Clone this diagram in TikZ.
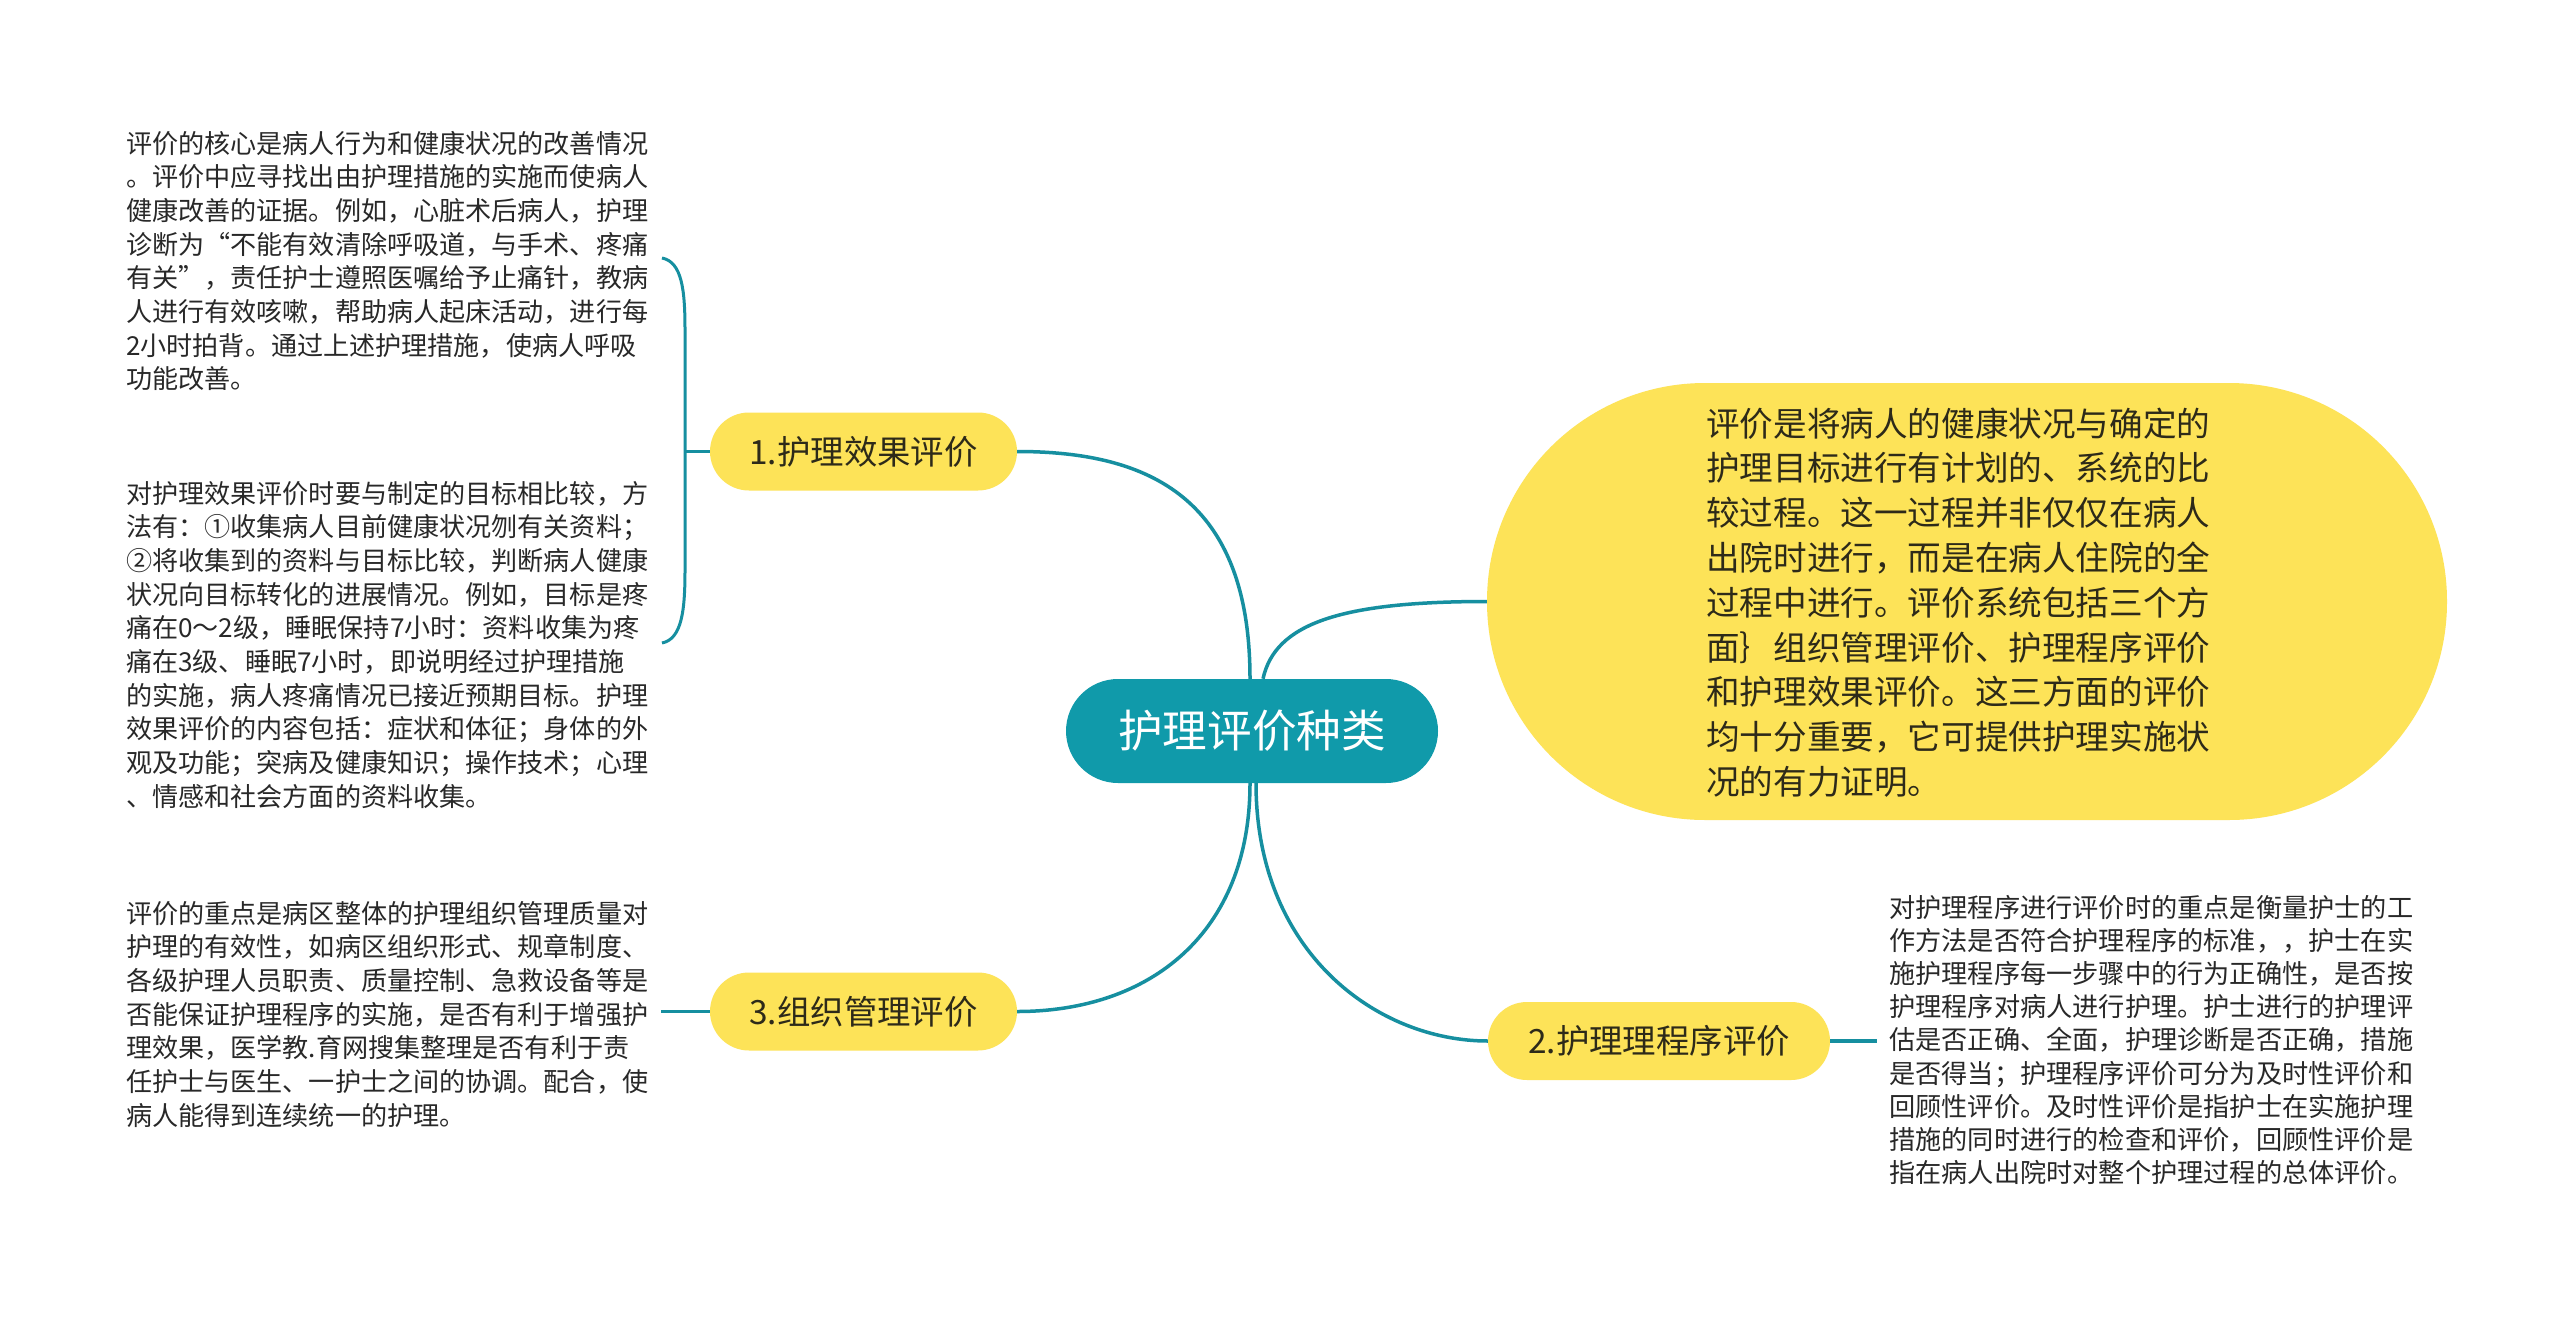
\documentclass[tikz,border=0pt]{standalone}
\usepackage{fontspec}
\newfontfamily\cjk{Noto Sans CJK SC}
\usetikzlibrary{calc}
\definecolor{rootteal}{RGB}{16,154,170}
\definecolor{lineteal}{RGB}{22,143,160}
\definecolor{yel}{RGB}{253,227,88}
\definecolor{ink}{RGB}{40,40,40}
\definecolor{inky}{RGB}{45,42,25}
\begin{document}
\begin{tikzpicture}[x=1pt,y=-1pt,
  rootbox/.style={fill=rootteal, rounded corners=52pt, minimum width=372pt, minimum height=104pt, inner sep=0pt, text=white, font=\cjk\fontsize{44.6}{52}\selectfont},
  branch/.style={fill=yel, rounded corners=39pt, minimum height=78pt, inner sep=0pt, text=inky, font=\cjk\fontsize{33.4}{40}\selectfont},
  bigbox/.style={fill=yel, rounded corners=218pt, minimum width=960pt, minimum height=437pt, inner sep=0pt},
  desc/.style={anchor=base west, inner sep=0pt, text=ink, font=\cjk\fontsize{26.1}{33.7}\selectfont},
  descr/.style={anchor=base west, inner sep=0pt, text=ink, font=\cjk\fontsize{26.2}{33.1}\selectfont},
  bigtxt/.style={anchor=base west, inner sep=0pt, text=inky, font=\cjk\fontsize{33.6}{44.8}\selectfont},
  conn/.style={draw=lineteal, line width=3.5pt}
]
\useasboundingbox (0,0) rectangle (2560,1317);
\fill[white] (0,0) rectangle (2560,1317);

% main shapes
\node[bigbox] (big) at (1967,601.5) {};
\node[rootbox] (root) at (1252,731) {护理评价种类};
\node[branch, minimum width=307pt] (n1) at (863.5,451.5) {1.护理效果评价};
\node[branch, minimum width=307pt] (n3) at (863.5,1011.5) {3.组织管理评价};
\node[branch, minimum width=342pt] (n2) at (1659,1041) {2.护理理程序评价};

% text in big shape
\node[bigtxt] (bigtext) at (1706,436) {\parbox[t]{560pt}{%
评价是将病人的健康状况与确定的\\
护理目标进行有计划的、系统的比\\
较过程。这一过程并非仅仅在病人\\
出院时进行，而是在病人住院的全\\
过程中进行。评价系统包括三个方\\
面｝组织管理评价、护理程序评价\\
和护理效果评价。这三方面的评价\\
均十分重要，它可提供护理实施状\\
况的有力证明。}};

% description blocks
\node[desc] (d1) at (126,153) {\parbox[t]{580pt}{%
评价的核心是病人行为和健康状况的改善情况\\
。评价中应寻找出由护理措施的实施而使病人\\
健康改善的证据。例如，心脏术后病人，护理\\
诊断为“不能有效清除呼吸道，与手术、疼痛\\
有关”，责任护士遵照医嘱给予止痛针，教病\\
人进行有效咳嗽，帮助病人起床活动，进行每\\
2小时拍背。通过上述护理措施，使病人呼吸\\
功能改善。}};

\node[desc] (d2) at (126,503) {\parbox[t]{580pt}{%
对护理效果评价时要与制定的目标相比较，方\\
法有：①收集病人目前健康状况刎有关资料；\\
②将收集到的资料与目标比较，判断病人健康\\
状况向目标转化的进展情况。例如，目标是疼\\
痛在0～2级，睡眠保持7小时：资料收集为疼\\
痛在3级、睡眠7小时，即说明经过护理措施\\
的实施，病人疼痛情况已接近预期目标。护理\\
效果评价的内容包括：症状和体征；身体的外\\
观及功能；突病及健康知识；操作技术；心理\\
、情感和社会方面的资料收集。}};

\node[desc] (d3) at (126,923) {\parbox[t]{580pt}{%
评价的重点是病区整体的护理组织管理质量对\\
护理的有效性，如病区组织形式、规章制度、\\
各级护理人员职责、质量控制、急救设备等是\\
否能保证护理程序的实施，是否有利于增强护\\
理效果，医学教.育网搜集整理是否有利于责\\
任护士与医生、一护士之间的协调。配合，使\\
病人能得到连续统一的护理。}};

\node[descr] (d4) at (1889,917.5) {\parbox[t]{580pt}{%
对护理程序进行评价时的重点是衡量护士的工\\
作方法是否符合护理程序的标准，，护士在实\\
施护理程序每一步骤中的行为正确性，是否按\\
护理程序对病人进行护理。护士进行的护理评\\
估是否正确、全面，护理诊断是否正确，措施\\
是否得当；护理程序评价可分为及时性评价和\\
回顾性评价。及时性评价是指护士在实施护理\\
措施的同时进行的检查和评价，回顾性评价是\\
指在病人出院时对整个护理过程的总体评价。}};

% free ends of connectors
\coordinate (b1t) at (662,258);
\coordinate (b1b) at (662,643);
\coordinate (b1m) at (685,451.5);
\coordinate (d3c) at (661,1011.5);
\coordinate (d4c) at (1877,1041);

% connectors from root
\draw[conn] ($(root.north)+(-2,0)$) .. controls ($(root.north)+(-2,-180)$) and ($(n1.east)+(133,0)$) .. (n1.east);
\draw[conn] ($(root.north)+(11,0)$) .. controls ($(root.north)+(23,-55)$) and ($(big.west)+(-147,0)$) .. (big.west);
\draw[conn] ($(root.south)+(-2,0)$) .. controls ($(root.south)+(-2,150)$) and ($(n3.east)+(133,0)$) .. (n3.east);
\draw[conn] ($(root.south)+(4,0)$) .. controls ($(root.south)+(4,170)$) and ($(n2.west)+(-110,0)$) .. (n2.west);

% bracket and short links to description blocks
\draw[conn, line width=3pt] (b1t) .. controls (682,262) and (685,290) .. (685,330) -- (685,570) .. controls (685,610) and (682,639) .. (b1b);
\draw[conn] (n1.west) -- (b1m);
\draw[conn] (n3.west) -- (d3c);
\draw[conn] (n2.east) -- (d4c);
\end{tikzpicture}
\end{document}
